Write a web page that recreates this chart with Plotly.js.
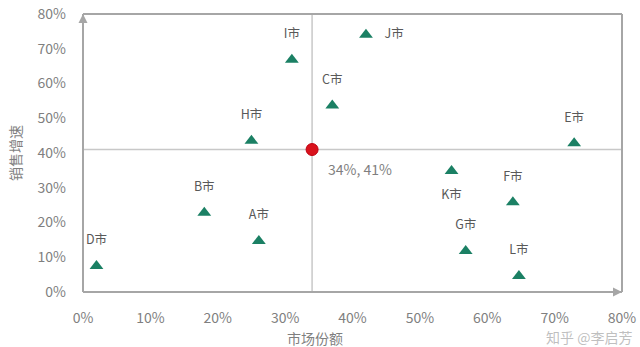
<!DOCTYPE html>
<html>
<head>
<meta charset="utf-8">
<script src="https://cdn.plot.ly/plotly-3.0.1.min.js"></script>
<style>
html,body{margin:0;padding:0;background:#fff;}
#chart{width:640px;height:347px;}
</style>
</head>
<body>
<div id="chart"></div>
<script>
// Data
var cities = ["A市","B市","C市","D市","E市","F市","G市","H市","I市","J市","K市","L市"];
var marketShare = [0.261, 0.180, 0.370, 0.020, 0.729, 0.638, 0.568, 0.250, 0.310, 0.420, 0.547, 0.647];
var salesGrowth = [0.147, 0.228, 0.537, 0.075, 0.428, 0.258, 0.118, 0.435, 0.668, 0.740, 0.348, 0.046];
var meanShare = [0.34];
var meanGrowth = [0.41];
var meanLabel = ["34%, 41%"];
var xTicks = [0, 0.1, 0.2, 0.3, 0.4, 0.5, 0.6, 0.7, 0.8];
var xTickText = ["0%","10%","20%","30%","40%","50%","60%","70%","80%"];
var yTicks = [0, 0.1, 0.2, 0.3, 0.4, 0.5, 0.6, 0.7, 0.8];
var yTickText = ["0%","10%","20%","30%","40%","50%","60%","70%","80%"];

var FONT = '"Noto Sans CJK SC", "Noto Sans", sans-serif';
var frameColor = '#a6a6a6';

var textPos = cities.map(function(c){
  if (c === "J市") return "middle right";
  if (c === "K市") return "bottom center";
  return "top center";
});

var traces = [
  { // labels via invisible larger markers
    x: marketShare, y: salesGrowth, text: cities, type: 'scatter', mode: 'markers+text',
    textposition: textPos, hoverinfo: 'skip',
    marker: {size: 28, opacity: 0, color: '#fff'},
    textfont: {family: FONT, size: 12.5, color: '#595959'}
  },
  {
    x: marketShare, y: salesGrowth, type: 'scatter', mode: 'markers',
    marker: {symbol: 'triangle-up', size: 12, color: '#1b8064'}
  },
  {
    x: meanShare, y: meanGrowth, type: 'scatter', mode: 'markers',
    marker: {symbol: 'circle', size: 12, color: '#d9121c', line: {color: '#c00010', width: 1}}
  }
];

var shapes = [
  {type:'line', xref:'x', yref:'paper', x0: meanShare[0], x1: meanShare[0], y0: 0, y1: 1, line:{color:'#c8c8c8', width:1.5}, layer:'below'},
  {type:'line', xref:'paper', yref:'y', x0: 0, x1: 1, y0: meanGrowth[0], y1: meanGrowth[0], line:{color:'#c8c8c8', width:1.5}, layer:'below'},
  {type:'line', xref:'paper', yref:'paper', x0: 0, x1: 1, y0: 1, y1: 1, line:{color: frameColor, width: 2}},
  {type:'line', xref:'paper', yref:'paper', x0: 1, x1: 1, y0: 0, y1: 1, line:{color: frameColor, width: 2}},
  {type:'line', xref:'paper', yref:'paper', x0: 0, x1: 0, y0: 0, y1: 1, line:{color: frameColor, width: 2}},
  {type:'line', xref:'paper', yref:'paper', x0: 0, x1: 1, y0: 0, y1: 0, line:{color: frameColor, width: 2}}
];

var annotations = [
  {xref:'paper', yref:'paper', x:0, y:1, ax:0, ay:14, axref:'pixel', ayref:'pixel', text:'', showarrow:true, arrowhead:2, arrowsize:1.2, arrowwidth:1.5, arrowcolor:frameColor},
  {xref:'paper', yref:'paper', x:1, y:0, ax:-14, ay:0, text:'', showarrow:true, arrowhead:2, arrowsize:1.2, arrowwidth:1.5, arrowcolor:frameColor},
  {xref:'x', yref:'y', x: meanShare[0], y: meanGrowth[0], text: meanLabel[0], showarrow:false, xanchor:'left', yanchor:'middle', xshift: 14, yshift: -19,
   font:{family: FONT, size: 14, color:'#7f7f7f'}},
  {xref:'paper', yref:'paper', x: 0.43, y: 0, yshift: -46, text:'市场份额', showarrow:false, xanchor:'center', yanchor:'middle',
   font:{family: FONT, size: 14, color:'#7f7f7f'}},
  {xref:'paper', yref:'paper', x: 0, xshift: -68, y: 0.5, text:'销售增速', textangle: -90, showarrow:false, xanchor:'center', yanchor:'middle',
   font:{family: FONT, size: 14, color:'#7f7f7f'}},
  {xref:'paper', yref:'paper', x: 1, xshift: 12, y: 0, yshift: -45, text:'知乎 @李启芳', showarrow:false, xanchor:'right', yanchor:'middle',
   font:{family: FONT, size: 14, color:'rgba(170,170,170,0.75)'}}
];

var layout = {
  width: 640, height: 347,
  margin: {l: 83, r: 18, t: 14, b: 55, pad: 0},
  paper_bgcolor: '#fff', plot_bgcolor: '#fff',
  showlegend: false,
  font: {family: FONT, color: '#7f7f7f'},
  xaxis: {range: [0, 0.8], tickvals: xTicks, ticktext: xTickText, showgrid: false, zeroline: false, showline: false,
          ticks: '', ticklabelstandoff: 16, tickfont: {family: FONT, size: 14, color: '#7f7f7f'}, fixedrange: true},
  yaxis: {range: [0, 0.8], tickvals: yTicks, ticktext: yTickText, showgrid: false, zeroline: false, showline: false,
          ticks: '', ticklabelstandoff: 16, tickfont: {family: FONT, size: 14, color: '#7f7f7f'}, fixedrange: true},
  shapes: shapes,
  annotations: annotations
};

Plotly.newPlot('chart', traces, layout, {displayModeBar: false, staticPlot: true});
</script>
</body>
</html>
